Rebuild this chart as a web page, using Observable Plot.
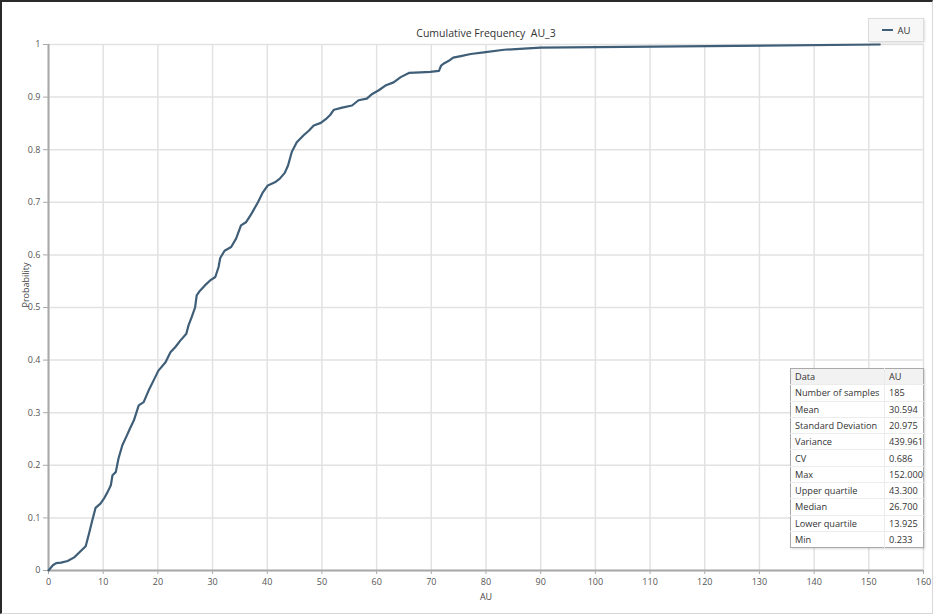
<!DOCTYPE html>
<html>
<head>
<meta charset="utf-8">
<script src="https://cdn.jsdelivr.net/npm/d3@7"></script>
<script src="https://cdn.jsdelivr.net/npm/@observablehq/plot@0.6"></script>
<style>
  html, body { margin: 0; padding: 0; background: #fff; }
  #wrap { position: relative; width: 933px; height: 614px; overflow: hidden;
          font-family: "Open Sans", "Noto Sans", sans-serif; }
  #wrap svg { position: absolute; left: 0; top: 0; }
  #edge { position: absolute; left: 0; top: 0; width: 933px; height: 614px; box-sizing: border-box;
          border-left: 2px solid #2a2a2a; border-top: 2px solid #2a2a2a;
          border-right: 1px solid #d8d8d8; border-bottom: 1px solid #d8d8d8; pointer-events: none; }
  #legend { position: absolute; left: 868px; top: 18px; width: 56px; height: 24px; box-sizing: border-box;
            border: 1px solid #dcdcdc; background: #f7f7f7; box-shadow: 1px 1px 2px rgba(0,0,0,0.12);
            font-size: 9.5px; color: #333; display: flex; align-items: center; justify-content: center; gap: 5px; }
  #legend .swatch { width: 11px; height: 2px; background: #3f5e78; }
  #stats { position: absolute; left: 790px; top: 368px; width: 134px; border-collapse: collapse;
           border: 1px solid #a9a9a9; background: #fff; font-size: 9.2px; color: #333;
           box-shadow: 1px 1px 2px rgba(0,0,0,0.15); }
  #stats td { height: 15.3px; padding: 0 0 0 4px; border-bottom: 1px solid #ececec; white-space: nowrap; line-height: 1; }
  #stats td:first-child { width: 92px; border-right: 1px solid #ececec; }
  #stats tr:first-child td { background: #f2f2f2; }
  #stats tr:last-child td { border-bottom: none; }
</style>
</head>
<body>
<div id="wrap"></div>
<script>
// Empirical cumulative frequency of AU_3 (185 samples): AU value vs. probability
const auValues = [0, 0.8, 1.4, 2.3, 3.5, 4.7, 5.9, 6.8, 7.4, 8.0, 8.6, 9.5, 10.1, 10.8, 11.4, 11.7, 12.3, 12.8,
  13.5, 14.3, 14.9, 15.6, 16.5, 17.4, 18.3, 19.2, 20.1, 21.4, 22.3, 23.2, 24.1, 25.2, 25.6, 26.2, 26.8, 27.1,
  27.7, 28.6, 29.5, 30.5, 31.1, 31.4, 32.2, 33.4, 34.3, 35.2, 36.1, 37.1, 38.3, 39.2, 40.1, 41.4, 42.3, 43.2,
  43.8, 44.5, 45.4, 46.7, 47.6, 48.5, 49.8, 50.7, 51.5, 52.2, 53.7, 55.5, 56.7, 58.2, 59.2, 60.4, 61.6, 63.1,
  64.4, 65.9, 68.0, 69.8, 71.4, 71.8, 72.3, 73.2, 74.0, 75.4, 77.2, 79.6, 83.3, 86.9, 90, 95, 152];
const probabilities = [0, 0.01, 0.014, 0.015, 0.018, 0.025, 0.037, 0.046, 0.07, 0.095, 0.119, 0.127, 0.136,
  0.149, 0.162, 0.181, 0.187, 0.213, 0.238, 0.256, 0.27, 0.285, 0.314, 0.32, 0.342, 0.361, 0.38, 0.396, 0.415,
  0.425, 0.437, 0.45, 0.466, 0.482, 0.5, 0.523, 0.532, 0.542, 0.551, 0.558, 0.577, 0.594, 0.608, 0.615, 0.631,
  0.656, 0.662, 0.678, 0.70, 0.719, 0.732, 0.738, 0.745, 0.756, 0.77, 0.796, 0.814, 0.828, 0.836, 0.846, 0.851,
  0.858, 0.866, 0.876, 0.88, 0.884, 0.894, 0.897, 0.906, 0.913, 0.922, 0.928, 0.938, 0.946, 0.947, 0.948, 0.95,
  0.96, 0.964, 0.969, 0.975, 0.978, 0.982, 0.985, 0.99, 0.992, 0.994, 0.9946, 1];

const xTicks = [0, 10, 20, 30, 40, 50, 60, 70, 80, 90, 100, 110, 120, 130, 140, 150, 160];
const yTicks = [0, 0.1, 0.2, 0.3, 0.4, 0.5, 0.6, 0.7, 0.8, 0.9, 1];
const yTickLabels = ["0", "0.1", "0.2", "0.3", "0.4", "0.5", "0.6", "0.7", "0.8", "0.9", "1"];

const chartTitle = "Cumulative Frequency\u00a0 AU_3";
const xLabel = "AU";
const yLabel = "Probability";
const seriesName = "AU";

// Summary statistics table
const statNames = ["Data", "Number of samples", "Mean", "Standard Deviation", "Variance", "CV", "Max",
  "Upper quartile", "Median", "Lower quartile", "Min"];
const statValues = ["AU", "185", "30.594", "20.975", "439.961", "0.686", "152.000", "43.300", "26.700",
  "13.925", "0.233"];

const points = auValues.map((v, i) => ({au: v, p: probabilities[i]}));
const lineColor = "#3f5e78";
const gridColor = "#e2e2e2";
const axisColor = "#a8a8a8";

const chart = Plot.plot({
  width: 933,
  height: 614,
  marginLeft: 48,
  marginRight: 10,
  marginTop: 44,
  marginBottom: 44,
  style: {background: "transparent", color: "#555", fontFamily: "'Open Sans', 'Noto Sans', sans-serif", fontSize: "9px"},
  x: {domain: [0, 160], ticks: xTicks, tickSize: 4, tickPadding: 4, label: null},
  y: {domain: [0, 1], ticks: yTicks, tickSize: 5, tickPadding: 3, label: null,
      tickFormat: d => yTickLabels[yTicks.findIndex(t => Math.abs(t - d) < 1e-9)]},
  marks: [
    Plot.ruleX(xTicks, {stroke: gridColor, strokeWidth: 1.5}),
    Plot.ruleY(yTicks, {stroke: gridColor, strokeWidth: 1.5}),
    Plot.ruleX([0], {stroke: axisColor, strokeWidth: 2}),
    Plot.ruleY([0], {stroke: axisColor, strokeWidth: 2}),
    Plot.line(points, {x: "au", y: "p", stroke: lineColor, strokeWidth: 2.2, curve: "linear"}),
    Plot.text([chartTitle], {frameAnchor: "top", dy: -15, fontSize: 10.5, fill: "#333"}),
    Plot.text([xLabel], {frameAnchor: "bottom", dy: 29, fontSize: 9, fill: "#444"}),
    Plot.text([yLabel], {frameAnchor: "left", dx: -22, rotate: -90, fontSize: 9, fill: "#444"})
  ]
});

// Lighter tick marks on both axes
chart.querySelectorAll('[aria-label="x-axis tick"], [aria-label="y-axis tick"]').forEach(g => {
  g.setAttribute("stroke", axisColor);
});

const wrap = document.getElementById("wrap");
wrap.appendChild(chart);

// Series legend (top right)
const legend = document.createElement("div");
legend.id = "legend";
legend.innerHTML = `<span class="swatch"></span><span>${seriesName}</span>`;
wrap.appendChild(legend);

// Statistics panel (bottom right)
const table = document.createElement("table");
table.id = "stats";
statNames.forEach((name, i) => {
  const tr = document.createElement("tr");
  const a = document.createElement("td");
  a.textContent = name;
  const b = document.createElement("td");
  b.textContent = statValues[i];
  tr.appendChild(a);
  tr.appendChild(b);
  table.appendChild(tr);
});
wrap.appendChild(table);

const edge = document.createElement("div");
edge.id = "edge";
wrap.appendChild(edge);
</script>
</body>
</html>
